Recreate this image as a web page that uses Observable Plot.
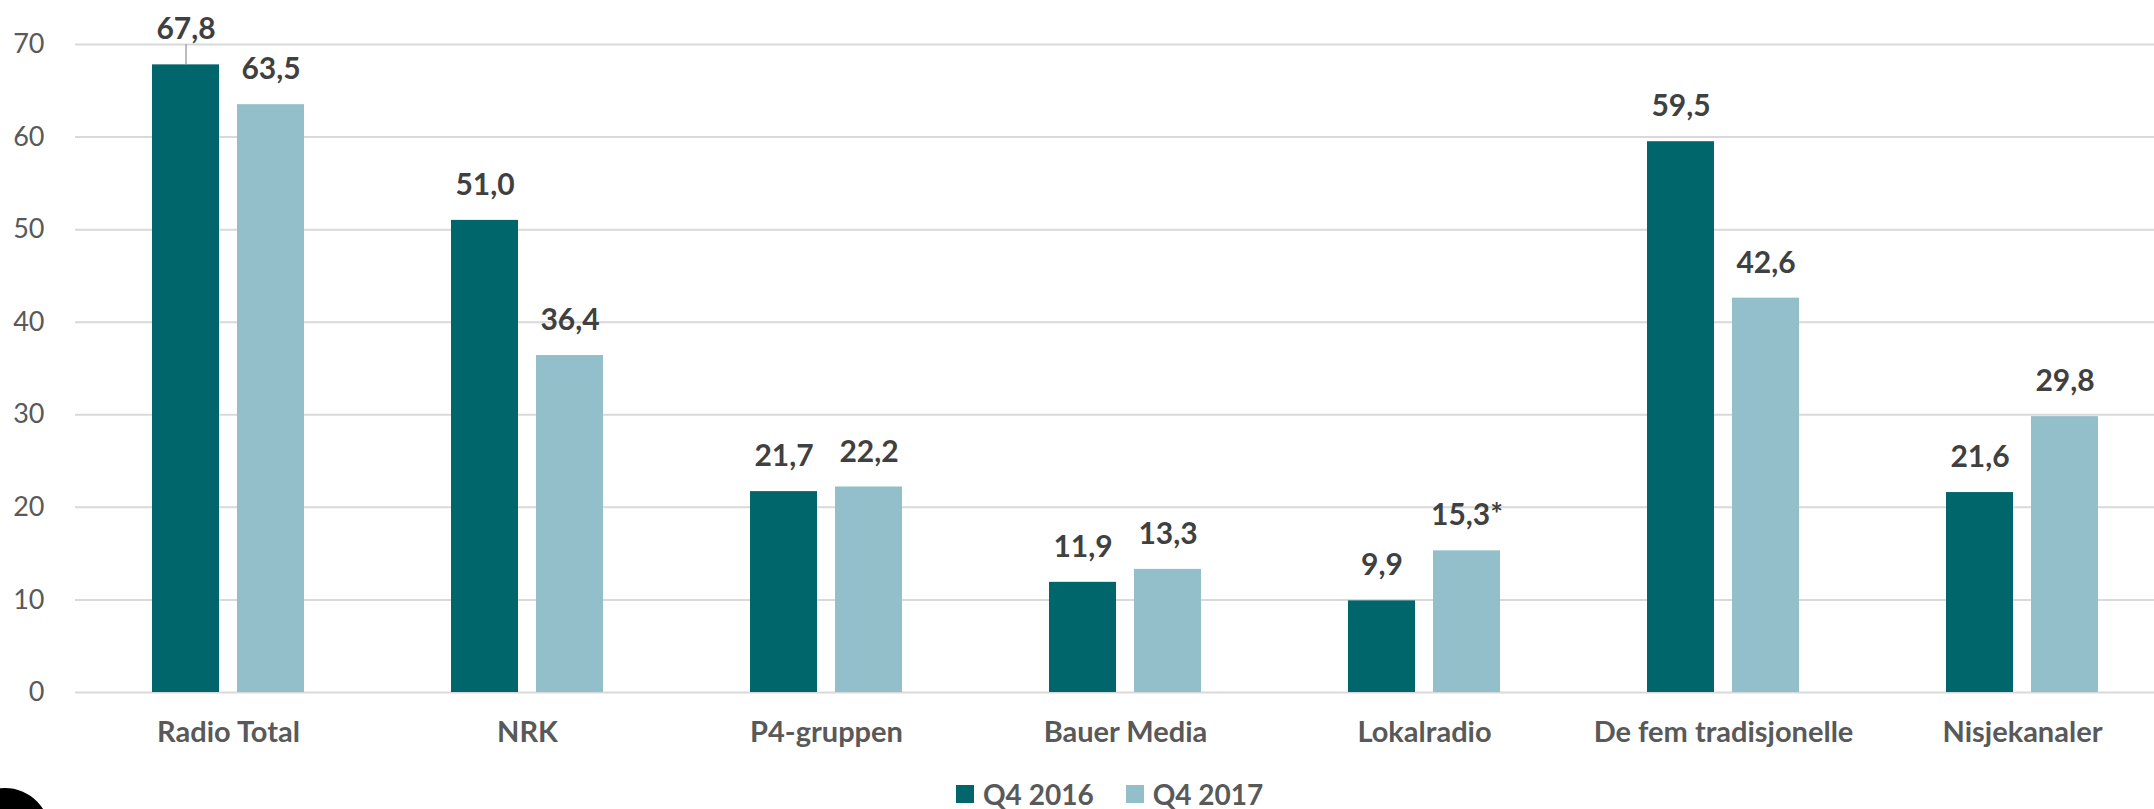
<!DOCTYPE html>
<html>
<head>
<meta charset="utf-8">
<script src="https://cdn.jsdelivr.net/npm/d3@7"></script>
<script src="https://cdn.jsdelivr.net/npm/@observablehq/plot@0.6"></script>
<style>
  html, body { margin: 0; padding: 0; background: #fff; }
  body { width: 2154px; height: 809px; position: relative; overflow: hidden; font-family: Lato, "Open Sans", sans-serif; }
  #chart { position: absolute; left: 0; top: 0; }
  #legend { position: absolute; left: 956px; top: 782px; display: flex; align-items: center; font-size: 28px; font-weight: bold; color: #595959; line-height: 24px; height: 24px; }
  #legend .item { display: flex; align-items: center; margin-right: 32px; }
  #legend .sw { width: 18px; height: 18px; margin-right: 9px; }
  #blob { position: absolute; left: -40px; top: 788px; width: 90px; height: 90px; border-radius: 50%; background: #000; }
</style>
</head>
<body>
<div id="chart"></div>
<div id="legend"></div>
<div id="blob"></div>
<script>
const categories = ["Radio Total", "NRK", "P4-gruppen", "Bauer Media", "Lokalradio", "De fem tradisjonelle", "Nisjekanaler"];
const series = ["Q4 2016", "Q4 2017"];
const q4_2016 = [67.8, 51.0, 21.7, 11.9, 9.9, 59.5, 21.6];
const q4_2017 = [63.5, 36.4, 22.2, 13.3, 15.3, 42.6, 29.8];
const notes2016 = ["", "", "", "", "", "", ""];
const notes2017 = ["", "", "", "", "*", "", ""];
const yTicks = [0, 10, 20, 30, 40, 50, 60, 70];
const colors = ["#00666b", "#92bfca"];

const fmt = v => v.toFixed(1).replace(".", ",");
const d2016 = categories.map((c, i) => ({cat: c, value: q4_2016[i], note: notes2016[i]}));
const d2017 = categories.map((c, i) => ({cat: c, value: q4_2017[i], note: notes2017[i]}));
// leader line for the label pushed against the top of the chart
const leader = [{cat: categories[0], from: q4_2016[0], to: yTicks[yTicks.length - 1]}];

const labelStyle = {fontSize: 30, fontWeight: "bold", fill: "#404040", dy: -35, lineAnchor: "middle"};

const chart = Plot.plot({
  width: 2154,
  height: 770,
  marginLeft: 75,
  marginRight: 0,
  marginTop: 44,
  marginBottom: 78,
  style: {fontFamily: "Lato, 'Open Sans', sans-serif", color: "#595959", background: "#fff"},
  x: {domain: categories, range: [75, 2175], paddingInner: 0.4933, paddingOuter: 0.2467, label: null},
  y: {domain: [0, 70], label: null},
  marks: [
    Plot.ruleY(yTicks, {stroke: "#d9d9d9", strokeWidth: 2}),
    Plot.axisY(yTicks, {tickSize: 0, tickPadding: 31, fontSize: 27, label: null}),
    Plot.axisX({tickSize: 0, tickPadding: 29, fontSize: 29, fontWeight: "bold", label: null}),
    Plot.barY(d2016, {x: "cat", y: "value", fill: colors[0], insetRight: 85}),
    Plot.barY(d2017, {x: "cat", y: "value", fill: colors[1], insetLeft: 85}),
    Plot.ruleX(leader, {x: "cat", y1: "from", y2: "to", dx: -42.5, stroke: "#a6a6a6", strokeWidth: 1.5}),
    Plot.text(d2016, {x: "cat", y: "value", text: d => fmt(d.value) + d.note, dx: -42.5, ...labelStyle}),
    Plot.text(d2017, {x: "cat", y: "value", text: d => fmt(d.value) + d.note, dx: 42.5, ...labelStyle})
  ]
});
document.getElementById("chart").appendChild(chart);

const legend = document.getElementById("legend");
series.forEach((s, i) => {
  const item = document.createElement("div");
  item.className = "item";
  const sw = document.createElement("span");
  sw.className = "sw";
  sw.style.background = colors[i];
  const t = document.createElement("span");
  t.textContent = s;
  item.appendChild(sw);
  item.appendChild(t);
  legend.appendChild(item);
});
</script>
</body>
</html>
